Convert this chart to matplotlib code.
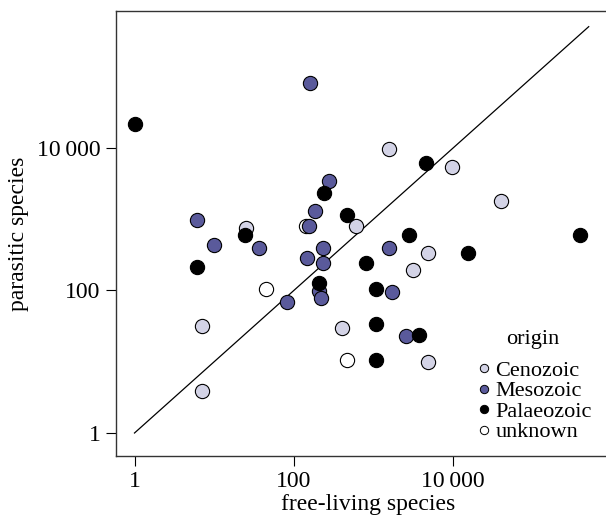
import matplotlib
matplotlib.use("Agg")
import matplotlib.pyplot as plt
from matplotlib.lines import Line2D
from matplotlib.ticker import FixedLocator, FuncFormatter

plt.rcParams['font.family'] = ['Liberation Serif', 'DejaVu Serif']

# free-living vs parasitic species counts, by origin
ceno_free = [1550, 9770, 39800, 603, 25, 4790, 3090, 7.1, 398, 4790, 7.1]
ceno_para = [9550, 5370, 1780, 794, 759, 339, 191, 32, 30, 9.8, 3.9]

meso_free = [158, 275, 182, 155, 6.0, 10, 36, 234, 1550, 145, 234, 81, 204, 219, 1700, 2570]
meso_para = [81300, 3470, 1290, 794, 977, 437, 389, 389, 389, 288, 245, 68, 98, 79, 95, 23]

palaeo_free = [1, 240, 468, 24, 4570, 2820, 389000, 15100, 6.0, 794, 209, 1070, 1070, 3720, 1070]
palaeo_para = [21400, 2340, 1150, 603, 6170, 589, 589, 339, 214, 245, 126, 105, 34, 24, 10.5]

unk_free = [141, 45, 468]
unk_para = [794, 105, 10.5]

groups = ['Cenozoic', 'Mesozoic', 'Palaeozoic', 'unknown']
colors = ['#d3d3e6', '#5a5a9b', '#000000', '#ffffff']
ticks = [1, 100, 10000]
line_end = 5e5

fig = plt.figure(figsize=(6.06, 5.15), dpi=100)
# axes extends past the right edge (cropped like the original)
ax = fig.add_axes([116 / 606, 59 / 515, 504 / 606, 445 / 515])
ax.set_xscale('log')
ax.set_yscale('log')
ax.set_xlim(10 ** (-18.5 / 79.7), 10 ** (485.5 / 79.7))
ax.set_ylim(10 ** (-23 / 71.3), 10 ** (422 / 71.3))

ax.plot([1, line_end], [1, line_end], color='black', lw=0.9, zorder=1)

data = [(ceno_free, ceno_para), (meso_free, meso_para),
        (palaeo_free, palaeo_para), (unk_free, unk_para)]
zorders = [3, 4, 5, 2]
for (fx, py), c, z in zip(data, colors, zorders):
    ax.scatter(fx, py, s=105, c=c, edgecolors='black', linewidths=0.8, zorder=z)

ax.xaxis.set_major_locator(FixedLocator(ticks))
ax.yaxis.set_major_locator(FixedLocator(ticks))
ax.xaxis.set_minor_locator(FixedLocator([]))
ax.yaxis.set_minor_locator(FixedLocator([]))
fmt = FuncFormatter(lambda v, p: f"{int(v):,}".replace(',', '\u2009'))
ax.xaxis.set_major_formatter(fmt)
ax.yaxis.set_major_formatter(fmt)
ax.tick_params(length=7, width=0.8, labelsize=17, pad=4)

for s in ax.spines.values():
    s.set_linewidth(1.0)
    s.set_color('#333333')

ax.set_xlabel('free-living species', fontsize=17, labelpad=1)
ax.set_ylabel('parasitic species', fontsize=17, labelpad=6)

handles = [Line2D([], [], marker='o', ls='none', markersize=6,
                  markerfacecolor=c, markeredgecolor='black', markeredgewidth=0.7)
           for c in colors]
leg = fig.legend(handles, groups, title='origin', loc='upper left',
                 bbox_to_anchor=(462 / 606, 1 - 319 / 515), frameon=False,
                 fontsize=16, title_fontsize=16, handletextpad=0.0,
                 handlelength=1.0, labelspacing=0.0, borderpad=0)
leg._legend_box.sep = 8

fig.savefig('out.png', dpi=100)
